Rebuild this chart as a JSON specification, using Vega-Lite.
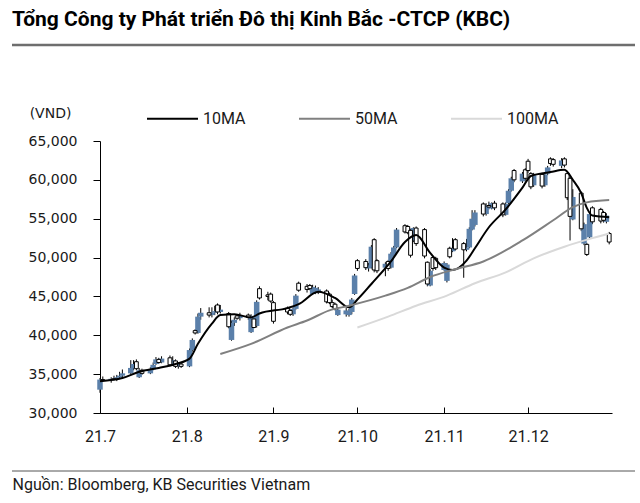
{
  "$schema": "https://vega.github.io/schema/vega-lite/v6.json",
  "autosize": "none",
  "width": 512,
  "height": 272,
  "padding": {"left": 100, "top": 141, "right": 28, "bottom": 90},
  "background": "white",
  "title": {"text": "Tổng Công ty Phát triển Đô thị Kinh Bắc -CTCP (KBC)", "anchor": "start", "frame": "group", "font": "Roboto", "fontSize": 21, "fontWeight": "bold", "color": "#000000", "dx": -88, "offset": 14},
  "datasets": {
    "px": [
      {"d":"2021-07-01","o":33000,"h":34500,"l":32600,"c":34300},
      {"d":"2021-07-02","o":34300,"h":34700,"l":34000,"c":34200},
      {"d":"2021-07-05","o":34200,"h":34600,"l":33900,"c":34400},
      {"d":"2021-07-06","o":34400,"h":34800,"l":34200,"c":34300},
      {"d":"2021-07-07","o":34300,"h":34900,"l":34100,"c":34600},
      {"d":"2021-07-08","o":34600,"h":35300,"l":34400,"c":34800},
      {"d":"2021-07-09","o":34800,"h":35600,"l":34600,"c":35100},
      {"d":"2021-07-12","o":35100,"h":36800,"l":35000,"c":35800},
      {"d":"2021-07-13","o":35800,"h":36800,"l":35500,"c":36300},
      {"d":"2021-07-14","o":36600,"h":36900,"l":35500,"c":35700},
      {"d":"2021-07-15","o":34600,"h":35800,"l":34500,"c":35500},
      {"d":"2021-07-16","o":35500,"h":35700,"l":34900,"c":35100},
      {"d":"2021-07-19","o":35100,"h":35900,"l":35000,"c":35600},
      {"d":"2021-07-20","o":35600,"h":36500,"l":35500,"c":36200},
      {"d":"2021-07-21","o":36300,"h":37200,"l":36200,"c":36900},
      {"d":"2021-07-22","o":36900,"h":37100,"l":36300,"c":36500},
      {"d":"2021-07-23","o":36500,"h":37300,"l":36400,"c":37000},
      {"d":"2021-07-26","o":37100,"h":37400,"l":36000,"c":36200},
      {"d":"2021-07-27","o":36300,"h":37300,"l":36100,"c":36800},
      {"d":"2021-07-28","o":36700,"h":36900,"l":35800,"c":36000},
      {"d":"2021-07-29","o":36000,"h":36500,"l":35700,"c":36300},
      {"d":"2021-07-30","o":36300,"h":36500,"l":35800,"c":36000},
      {"d":"2021-08-02","o":36000,"h":38300,"l":35900,"c":38100},
      {"d":"2021-08-03","o":38100,"h":39600,"l":37900,"c":39400},
      {"d":"2021-08-04","o":40600,"h":40800,"l":40100,"c":40300},
      {"d":"2021-08-05","o":40300,"h":42800,"l":40200,"c":42400},
      {"d":"2021-08-06","o":42400,"h":43500,"l":42000,"c":42900},
      {"d":"2021-08-09","o":42900,"h":43600,"l":42300,"c":42600},
      {"d":"2021-08-10","o":42600,"h":43600,"l":42300,"c":42900},
      {"d":"2021-08-11","o":42900,"h":43800,"l":42600,"c":43100},
      {"d":"2021-08-12","o":43900,"h":44100,"l":42700,"c":43000},
      {"d":"2021-08-13","o":43000,"h":43900,"l":42800,"c":43300},
      {"d":"2021-08-16","o":42800,"h":43000,"l":40900,"c":41100},
      {"d":"2021-08-17","o":39400,"h":41900,"l":39300,"c":41600},
      {"d":"2021-08-18","o":41600,"h":42300,"l":41200,"c":42000},
      {"d":"2021-08-19","o":42500,"h":42700,"l":42000,"c":42200},
      {"d":"2021-08-20","o":42200,"h":42900,"l":41900,"c":42500},
      {"d":"2021-08-23","o":42600,"h":42800,"l":42000,"c":42300},
      {"d":"2021-08-24","o":40400,"h":42700,"l":40300,"c":42500},
      {"d":"2021-08-25","o":42100,"h":42300,"l":40900,"c":41000},
      {"d":"2021-08-26","o":41200,"h":44500,"l":41000,"c":44300},
      {"d":"2021-08-27","o":46000,"h":46300,"l":44600,"c":44800},
      {"d":"2021-08-30","o":45200,"h":45600,"l":44500,"c":45000},
      {"d":"2021-08-31","o":45300,"h":45500,"l":44200,"c":44400},
      {"d":"2021-09-01","o":44200,"h":44400,"l":41500,"c":41800},
      {"d":"2021-09-06","o":43500,"h":43700,"l":42700,"c":43000},
      {"d":"2021-09-07","o":43200,"h":43400,"l":42500,"c":42700},
      {"d":"2021-09-08","o":42700,"h":43600,"l":42500,"c":43400},
      {"d":"2021-09-09","o":43400,"h":45300,"l":43300,"c":45100},
      {"d":"2021-09-10","o":46700,"h":46900,"l":45600,"c":45800},
      {"d":"2021-09-13","o":46300,"h":46600,"l":45500,"c":45900},
      {"d":"2021-09-14","o":46400,"h":46600,"l":45800,"c":46000},
      {"d":"2021-09-15","o":45300,"h":46500,"l":45200,"c":46200},
      {"d":"2021-09-16","o":45500,"h":46400,"l":45300,"c":46100},
      {"d":"2021-09-17","o":45600,"h":46200,"l":45300,"c":45900},
      {"d":"2021-09-20","o":45700,"h":45900,"l":44100,"c":44300},
      {"d":"2021-09-21","o":45300,"h":45500,"l":44000,"c":44200},
      {"d":"2021-09-22","o":44200,"h":44600,"l":43500,"c":43700},
      {"d":"2021-09-23","o":44000,"h":44200,"l":43200,"c":43400},
      {"d":"2021-09-24","o":42600,"h":43600,"l":42500,"c":43300},
      {"d":"2021-09-27","o":42700,"h":43500,"l":42400,"c":43200},
      {"d":"2021-09-28","o":42600,"h":43400,"l":42400,"c":43100},
      {"d":"2021-09-29","o":43000,"h":44800,"l":42700,"c":44600},
      {"d":"2021-09-30","o":45300,"h":47900,"l":45200,"c":47700},
      {"d":"2021-10-01","o":49600,"h":49800,"l":48300,"c":48600},
      {"d":"2021-10-04","o":49500,"h":49800,"l":48400,"c":48700},
      {"d":"2021-10-05","o":48600,"h":49300,"l":48200,"c":49000},
      {"d":"2021-10-06","o":48700,"h":51600,"l":48600,"c":51400},
      {"d":"2021-10-07","o":52300,"h":52500,"l":48100,"c":48400},
      {"d":"2021-10-08","o":49600,"h":49800,"l":48000,"c":48300},
      {"d":"2021-10-11","o":48700,"h":49400,"l":47600,"c":49200},
      {"d":"2021-10-12","o":49500,"h":49700,"l":48300,"c":48600},
      {"d":"2021-10-13","o":48700,"h":50700,"l":48600,"c":50500},
      {"d":"2021-10-14","o":50300,"h":51500,"l":50100,"c":51300},
      {"d":"2021-10-15","o":51300,"h":53800,"l":51200,"c":53600},
      {"d":"2021-10-18","o":54100,"h":54300,"l":53100,"c":53300},
      {"d":"2021-10-19","o":54000,"h":54200,"l":53000,"c":53200},
      {"d":"2021-10-20","o":53500,"h":53700,"l":50000,"c":50300},
      {"d":"2021-10-21","o":52200,"h":53900,"l":52000,"c":53800},
      {"d":"2021-10-22","o":53800,"h":54000,"l":51500,"c":51800},
      {"d":"2021-10-25","o":53600,"h":53800,"l":49900,"c":50200},
      {"d":"2021-10-26","o":49400,"h":49500,"l":46300,"c":46600},
      {"d":"2021-10-27","o":46400,"h":48500,"l":46300,"c":48300},
      {"d":"2021-10-28","o":50000,"h":50200,"l":48300,"c":48600},
      {"d":"2021-10-29","o":49900,"h":50100,"l":48400,"c":48700},
      {"d":"2021-11-01","o":48400,"h":49500,"l":48300,"c":49300},
      {"d":"2021-11-02","o":47000,"h":49300,"l":46800,"c":49100},
      {"d":"2021-11-03","o":51200,"h":51400,"l":49900,"c":50100},
      {"d":"2021-11-04","o":50800,"h":52500,"l":50700,"c":51200},
      {"d":"2021-11-05","o":52300,"h":52500,"l":50900,"c":51100},
      {"d":"2021-11-08","o":51800,"h":52000,"l":47400,"c":51000},
      {"d":"2021-11-09","o":51000,"h":52400,"l":50800,"c":51300},
      {"d":"2021-11-10","o":51300,"h":53900,"l":51200,"c":53700},
      {"d":"2021-11-11","o":53600,"h":56100,"l":53500,"c":55000},
      {"d":"2021-11-12","o":54200,"h":56100,"l":54000,"c":55800},
      {"d":"2021-11-15","o":56900,"h":57100,"l":55300,"c":55600},
      {"d":"2021-11-16","o":55600,"h":57000,"l":55400,"c":56700},
      {"d":"2021-11-17","o":56700,"h":57200,"l":56200,"c":56500},
      {"d":"2021-11-18","o":56300,"h":57100,"l":56200,"c":57000},
      {"d":"2021-11-19","o":57000,"h":57300,"l":56100,"c":56400},
      {"d":"2021-11-22","o":56900,"h":57100,"l":55200,"c":55500},
      {"d":"2021-11-23","o":55500,"h":57100,"l":55400,"c":56900},
      {"d":"2021-11-24","o":57000,"h":58800,"l":56900,"c":58600},
      {"d":"2021-11-25","o":58600,"h":60400,"l":58500,"c":60200},
      {"d":"2021-11-26","o":61200,"h":61400,"l":59700,"c":60000},
      {"d":"2021-11-29","o":59800,"h":61000,"l":59600,"c":60800},
      {"d":"2021-11-30","o":61300,"h":61500,"l":59900,"c":60200},
      {"d":"2021-12-01","o":62400,"h":62700,"l":60900,"c":61200},
      {"d":"2021-12-02","o":60800,"h":61000,"l":58800,"c":59100},
      {"d":"2021-12-03","o":59300,"h":60900,"l":59100,"c":60600},
      {"d":"2021-12-06","o":60700,"h":60900,"l":58900,"c":59200},
      {"d":"2021-12-07","o":59300,"h":61000,"l":59100,"c":60700},
      {"d":"2021-12-08","o":60800,"h":61800,"l":60600,"c":61600},
      {"d":"2021-12-09","o":62700,"h":62900,"l":61800,"c":62100},
      {"d":"2021-12-10","o":62600,"h":62800,"l":61700,"c":62000},
      {"d":"2021-12-13","o":61800,"h":62800,"l":61500,"c":62500},
      {"d":"2021-12-14","o":62700,"h":62900,"l":61600,"c":61900},
      {"d":"2021-12-15","o":60800,"h":61000,"l":57400,"c":57700},
      {"d":"2021-12-16","o":60200,"h":60400,"l":52200,"c":55300},
      {"d":"2021-12-17","o":54900,"h":58800,"l":54800,"c":57800},
      {"d":"2021-12-20","o":58300,"h":58500,"l":53400,"c":53700},
      {"d":"2021-12-21","o":51800,"h":54500,"l":51600,"c":54300},
      {"d":"2021-12-22","o":51700,"h":51900,"l":50200,"c":50400},
      {"d":"2021-12-23","o":52600,"h":55800,"l":52500,"c":55600},
      {"d":"2021-12-24","o":56400,"h":56600,"l":54300,"c":54600},
      {"d":"2021-12-27","o":56200,"h":56400,"l":54400,"c":54700},
      {"d":"2021-12-28","o":55800,"h":56000,"l":54500,"c":54800},
      {"d":"2021-12-29","o":54600,"h":55700,"l":54400,"c":55400},
      {"d":"2021-12-30","o":53100,"h":53300,"l":51700,"c":52000}
    ],
    "ma": [
      {"d":"2021-07-01","s":"10MA","v":34100},
      {"d":"2021-07-09","s":"10MA","v":34500},
      {"d":"2021-07-15","s":"10MA","v":35300},
      {"d":"2021-07-22","s":"10MA","v":35800},
      {"d":"2021-07-28","s":"10MA","v":36300},
      {"d":"2021-08-02","s":"10MA","v":37000},
      {"d":"2021-08-05","s":"10MA","v":38900},
      {"d":"2021-08-10","s":"10MA","v":41500},
      {"d":"2021-08-13","s":"10MA","v":42600},
      {"d":"2021-08-18","s":"10MA","v":42700},
      {"d":"2021-08-24","s":"10MA","v":42300},
      {"d":"2021-08-27","s":"10MA","v":42800},
      {"d":"2021-09-06","s":"10MA","v":43500},
      {"d":"2021-09-10","s":"10MA","v":44000},
      {"d":"2021-09-17","s":"10MA","v":45600},
      {"d":"2021-09-23","s":"10MA","v":44800},
      {"d":"2021-09-28","s":"10MA","v":43600},
      {"d":"2021-10-01","s":"10MA","v":44600},
      {"d":"2021-10-06","s":"10MA","v":46600},
      {"d":"2021-10-13","s":"10MA","v":49500},
      {"d":"2021-10-18","s":"10MA","v":52000},
      {"d":"2021-10-22","s":"10MA","v":52900},
      {"d":"2021-10-27","s":"10MA","v":50600},
      {"d":"2021-11-01","s":"10MA","v":48700},
      {"d":"2021-11-04","s":"10MA","v":48400},
      {"d":"2021-11-09","s":"10MA","v":49600},
      {"d":"2021-11-12","s":"10MA","v":51200},
      {"d":"2021-11-17","s":"10MA","v":53900},
      {"d":"2021-11-23","s":"10MA","v":56200},
      {"d":"2021-11-29","s":"10MA","v":59000},
      {"d":"2021-12-02","s":"10MA","v":60500},
      {"d":"2021-12-09","s":"10MA","v":61000},
      {"d":"2021-12-14","s":"10MA","v":61300},
      {"d":"2021-12-17","s":"10MA","v":60000},
      {"d":"2021-12-20","s":"10MA","v":58300},
      {"d":"2021-12-22","s":"10MA","v":56400},
      {"d":"2021-12-24","s":"10MA","v":55400},
      {"d":"2021-12-30","s":"10MA","v":55200},
      {"d":"2021-08-13","s":"50MA","v":37600},
      {"d":"2021-08-24","s":"50MA","v":38900},
      {"d":"2021-09-06","s":"50MA","v":41000},
      {"d":"2021-09-13","s":"50MA","v":41900},
      {"d":"2021-09-21","s":"50MA","v":43200},
      {"d":"2021-09-28","s":"50MA","v":43800},
      {"d":"2021-10-11","s":"50MA","v":45100},
      {"d":"2021-10-19","s":"50MA","v":46100},
      {"d":"2021-10-27","s":"50MA","v":47500},
      {"d":"2021-11-05","s":"50MA","v":48500},
      {"d":"2021-11-15","s":"50MA","v":49500},
      {"d":"2021-11-29","s":"50MA","v":52200},
      {"d":"2021-12-10","s":"50MA","v":54800},
      {"d":"2021-12-17","s":"50MA","v":56500},
      {"d":"2021-12-22","s":"50MA","v":57100},
      {"d":"2021-12-30","s":"50MA","v":57400},
      {"d":"2021-10-01","s":"100MA","v":41000},
      {"d":"2021-10-12","s":"100MA","v":42400},
      {"d":"2021-10-22","s":"100MA","v":43800},
      {"d":"2021-11-02","s":"100MA","v":45100},
      {"d":"2021-11-12","s":"100MA","v":46700},
      {"d":"2021-11-23","s":"100MA","v":48100},
      {"d":"2021-12-03","s":"100MA","v":49900},
      {"d":"2021-12-14","s":"100MA","v":51400},
      {"d":"2021-12-24","s":"100MA","v":52500},
      {"d":"2021-12-30","s":"100MA","v":53100}
    ]
  },
  "encoding": {
    "x": {
      "field": "d", "type": "temporal",
      "scale": {"type": "utc", "domain": ["2021-07-01", "2021-12-31"], "nice": false, "padding": 0},
      "axis": {
        "title": "Nguồn: Bloomberg, KB Securities Vietnam",
        "format": "%y.%-m",
        "tickCount": {"interval": "month", "step": 1},
        "labelFont": "Roboto", "labelFontSize": 16, "labelColor": "#1a1a1a",
        "labelPadding": 21, "tickSize": -6, "labelFlush": false,
        "domainColor": "#000000", "tickColor": "#000000",
        "titleFont": "Roboto", "titleFontSize": 16, "titleFontWeight": "normal", "titleColor": "#1a1a1a",
        "titleX": -88, "titleY": 71, "titleAlign": "left", "titleBaseline": "middle", "titleAnchor": "start"
      }
    }
  },
  "layer": [
    {
      "data": {"values": [{}]},
      "mark": {"type": "rule", "color": "#6e6e6e", "strokeWidth": 2.5},
      "encoding": {"x": {"value": -88}, "x2": {"value": 535}, "y": {"value": -96}}
    },
    {
      "data": {"values": [{}]},
      "mark": {"type": "rule", "color": "#555555", "strokeWidth": 1},
      "encoding": {"x": {"value": -88}, "x2": {"value": 535}, "y": {"value": 330}}
    },
    {
      "data": {"name": "px"},
      "mark": {"type": "rule", "color": "#000000", "strokeWidth": 1},
      "encoding": {
        "y": {"field": "l", "type": "quantitative", "scale": {"domain": [30000, 65000], "nice": false, "zero": false},
          "axis": {"title": "(VND)", "values": [30000, 35000, 40000, 45000, 50000, 55000, 60000, 65000], "format": ",.0f",
            "labelFont": "DejaVu Sans", "labelFontSize": 14, "labelColor": "#1a1a1a", "tickSize": 7, "labelPadding": 16,
            "domainColor": "#000000", "tickColor": "#000000",
            "titleFont": "DejaVu Sans", "titleFontSize": 14, "titleFontWeight": "normal", "titleColor": "#1a1a1a",
            "titleAngle": 0, "titleX": -50, "titleY": -28, "titleAlign": "center", "titleBaseline": "middle"}},
        "y2": {"field": "h"}
      }
    },
    {
      "data": {"name": "px"},
      "transform": [{"filter": "datum.c >= datum.o"}],
      "mark": {"type": "bar", "color": "#5b80aa", "size": 5.5},
      "encoding": {
        "y": {"field": "o", "type": "quantitative",
          "axis": {"title": "(VND)", "values": [30000, 35000, 40000, 45000, 50000, 55000, 60000, 65000], "format": ",.0f",
            "labelFont": "DejaVu Sans", "labelFontSize": 14, "labelColor": "#1a1a1a", "tickSize": 7, "labelPadding": 16,
            "domainColor": "#000000", "tickColor": "#000000",
            "titleFont": "DejaVu Sans", "titleFontSize": 14, "titleFontWeight": "normal", "titleColor": "#1a1a1a",
            "titleAngle": 0, "titleX": -50, "titleY": -28, "titleAlign": "center", "titleBaseline": "middle"}},
        "y2": {"field": "c"}
      }
    },
    {
      "data": {"name": "px"},
      "transform": [{"filter": "datum.c < datum.o"}],
      "mark": {"type": "bar", "fill": "#ffffff", "stroke": "#000000", "strokeWidth": 1, "size": 3.8},
      "encoding": {
        "y": {"field": "o", "type": "quantitative",
          "axis": {"title": "(VND)", "values": [30000, 35000, 40000, 45000, 50000, 55000, 60000, 65000], "format": ",.0f",
            "labelFont": "DejaVu Sans", "labelFontSize": 14, "labelColor": "#1a1a1a", "tickSize": 7, "labelPadding": 16,
            "domainColor": "#000000", "tickColor": "#000000",
            "titleFont": "DejaVu Sans", "titleFontSize": 14, "titleFontWeight": "normal", "titleColor": "#1a1a1a",
            "titleAngle": 0, "titleX": -50, "titleY": -28, "titleAlign": "center", "titleBaseline": "middle"}},
        "y2": {"field": "c"}
      }
    },
    {
      "data": {"name": "ma"},
      "mark": {"type": "line", "interpolate": "monotone"},
      "encoding": {
        "y": {"field": "v", "type": "quantitative",
          "axis": {"title": "(VND)", "values": [30000, 35000, 40000, 45000, 50000, 55000, 60000, 65000], "format": ",.0f",
            "labelFont": "DejaVu Sans", "labelFontSize": 14, "labelColor": "#1a1a1a", "tickSize": 7, "labelPadding": 16,
            "domainColor": "#000000", "tickColor": "#000000",
            "titleFont": "DejaVu Sans", "titleFontSize": 14, "titleFontWeight": "normal", "titleColor": "#1a1a1a",
            "titleAngle": 0, "titleX": -50, "titleY": -28, "titleAlign": "center", "titleBaseline": "middle"}},
        "color": {"field": "s", "type": "nominal",
          "scale": {"domain": ["10MA", "50MA", "100MA"], "range": ["#000000", "#808080", "#d9d9d9"]},
          "legend": {"orient": "none", "direction": "horizontal", "legendX": 46, "legendY": -49, "title": null,
            "symbolType": "stroke", "symbolSize": 2600, "symbolStrokeWidth": 2.5,
            "labelFont": "Roboto", "labelFontSize": 16, "labelColor": "#1a1a1a", "labelOffset": 4,
            "columnPadding": 49, "padding": 0}},
        "strokeWidth": {"field": "s", "type": "nominal", "scale": {"domain": ["10MA", "50MA", "100MA"], "range": [2, 2, 3]}, "legend": null}
      }
    }
  ],
  "config": {
    "view": {"stroke": null},
    "axis": {"grid": false}
  }
}
